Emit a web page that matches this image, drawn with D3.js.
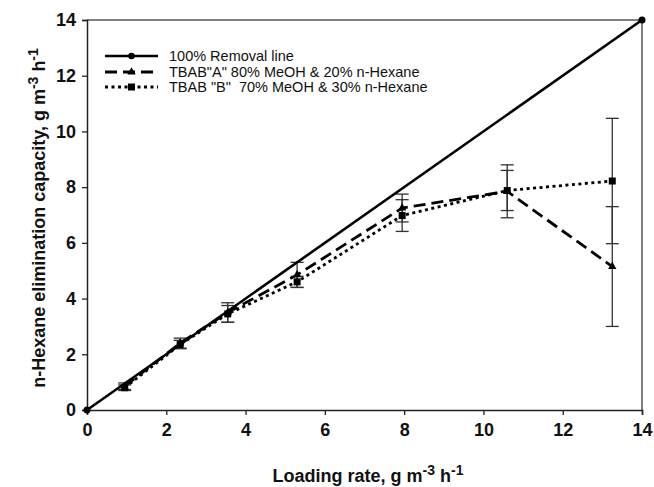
<!DOCTYPE html>
<html><head><meta charset="utf-8">
<script src="https://cdn.jsdelivr.net/npm/d3@7"></script>
<style>body{margin:0;background:#fff}svg{display:block}text{font-family:"Liberation Sans",Arial,sans-serif}</style>
</head><body><svg id="c" width="654" height="487"></svg>
<script>
const loadingRate = [0.95, 2.35, 3.55, 5.3, 7.95, 10.6, 13.25];
const removalX = [0, 14];
const removalY = [0, 14];
const seriesA = [0.85, 2.4, 3.5, 4.85, 7.25, 7.85, 5.15];
const errA = [0.12, 0.18, 0.35, 0.45, 0.5, 0.95, 2.15];
const seriesB = [0.8, 2.35, 3.45, 4.6, 6.98, 7.88, 8.22];
const errB = [0.1, 0.15, 0.3, 0.2, 0.57, 0.72, 2.25];
const xTicks = [0, 2, 4, 6, 8, 10, 12, 14];
const yTicks = [0, 2, 4, 6, 8, 10, 12, 14];
const legendLabels = ["100% Removal line", "TBAB\"A\" 80% MeOH & 20% n-Hexane", "TBAB \"B\"  70% MeOH & 30% n-Hexane"];

const svg = d3.select("#c");
const L = 87, R = 642, T = 20, B = 410;
const x = d3.scaleLinear().domain([0, 14]).range([L, R]);
const y = d3.scaleLinear().domain([0, 14]).range([B, T]);

// frame
svg.append("line").attr("x1", L).attr("x2", R).attr("y1", T).attr("y2", T).attr("stroke", "#555").attr("stroke-width", 1.5);
svg.append("line").attr("x1", R).attr("x2", R).attr("y1", T).attr("y2", B).attr("stroke", "#555").attr("stroke-width", 1.5);

const xAxis = svg.append("g").attr("transform", `translate(0,${B})`)
  .call(d3.axisBottom(x).tickValues(xTicks).tickSize(5).tickPadding(6).tickFormat(d3.format("d")));
const yAxis = svg.append("g").attr("transform", `translate(${L},0)`)
  .call(d3.axisLeft(y).tickValues(yTicks).tickSize(5).tickPadding(6).tickFormat(d3.format("d")));
[xAxis, yAxis].forEach(g => {
  g.select(".domain").attr("stroke", "#222").attr("stroke-width", 1.5);
  g.selectAll(".tick line").attr("stroke", "#222").attr("stroke-width", 1.3);
  g.selectAll("text").attr("font-size", 18).attr("font-weight", "bold").attr("fill", "#111")
    .attr("font-family", "'Liberation Sans',Arial,sans-serif");
});
xAxis.selectAll("text").attr("dy", "0.85em");

// error bars
function errBars(vals, errs) {
  const g = svg.append("g").attr("stroke", "#333").attr("stroke-width", 1.3);
  loadingRate.forEach((lr, i) => {
    const cx = x(lr), y1 = y(vals[i] - errs[i]), y2 = y(vals[i] + errs[i]);
    g.append("line").attr("x1", cx).attr("x2", cx).attr("y1", y1).attr("y2", y2);
    g.append("line").attr("x1", cx - 6.5).attr("x2", cx + 6.5).attr("y1", y1).attr("y2", y1);
    g.append("line").attr("x1", cx - 6.5).attr("x2", cx + 6.5).attr("y1", y2).attr("y2", y2);
  });
}
errBars(seriesA, errA);
errBars(seriesB, errB);

const line = d3.line().x(d => x(d[0])).y(d => y(d[1]));
// removal line
const rem = removalX.map((v, i) => [v, removalY[i]]);
svg.append("path").attr("d", line(rem)).attr("fill", "none").attr("stroke", "#000").attr("stroke-width", 2.6);
svg.selectAll(".rm").data(rem).enter().append("circle").attr("cx", d => x(d[0])).attr("cy", d => y(d[1])).attr("r", 3.5).attr("fill", "#000");

// series A
const aPts = loadingRate.map((v, i) => [v, seriesA[i]]);
svg.append("path").attr("d", line(aPts)).attr("fill", "none").attr("stroke", "#000").attr("stroke-width", 2.8).attr("stroke-dasharray", "12,6");
const tri = d3.symbol().type(d3.symbolTriangle).size(30);
svg.selectAll(".ta").data(aPts).enter().append("path").attr("d", tri).attr("transform", d => `translate(${x(d[0])},${y(d[1])})`).attr("fill", "#000");

// series B
const bPts = loadingRate.map((v, i) => [v, seriesB[i]]);
svg.append("path").attr("d", line(bPts)).attr("fill", "none").attr("stroke", "#000").attr("stroke-width", 2.8).attr("stroke-dasharray", "3,3.5");
svg.selectAll(".sb").data(bPts).enter().append("rect").attr("x", d => x(d[0]) - 3.5).attr("y", d => y(d[1]) - 3.5).attr("width", 7).attr("height", 7).attr("fill", "#000");

// legend
const lg = svg.append("g");
const rows = [56, 72, 87];
const lx1 = 105, lx2 = 158, lm = 131.5;
lg.append("line").attr("x1", lx1).attr("x2", lx2).attr("y1", rows[0]).attr("y2", rows[0]).attr("stroke", "#000").attr("stroke-width", 2.6);
lg.append("circle").attr("cx", lm).attr("cy", rows[0]).attr("r", 3.3).attr("fill", "#000");
lg.append("line").attr("x1", lx1).attr("x2", lx2).attr("y1", rows[1]).attr("y2", rows[1]).attr("stroke", "#000").attr("stroke-width", 2.8).attr("stroke-dasharray", "12,6");
lg.append("path").attr("d", tri).attr("transform", `translate(${lm},${rows[1]})`).attr("fill", "#000");
lg.append("line").attr("x1", lx1).attr("x2", lx2).attr("y1", rows[2]).attr("y2", rows[2]).attr("stroke", "#000").attr("stroke-width", 2.8).attr("stroke-dasharray", "3,3.5");
lg.append("rect").attr("x", lm - 3.5).attr("y", rows[2] - 3.5).attr("width", 7).attr("height", 7).attr("fill", "#000");
legendLabels.forEach((t, i) => {
  lg.append("text").attr("x", 169).attr("y", rows[i]).attr("dy", "0.35em").attr("font-size", 14.5).attr("fill", "#111").attr("xml:space", "preserve").text(t);
});

// axis titles
const xt = svg.append("text").attr("x", 368).attr("y", 482).attr("text-anchor", "middle").attr("font-size", 18).attr("font-weight", "bold").attr("fill", "#111");
xt.append("tspan").text("Loading rate, g m");
xt.append("tspan").attr("dy", -7).attr("font-size", 14).text("-3");
xt.append("tspan").attr("dy", 7).text(" h");
xt.append("tspan").attr("dy", -7).attr("font-size", 14).text("-1");

const yt = svg.append("text").attr("transform", "translate(45,218) rotate(-90)").attr("text-anchor", "middle").attr("font-size", 18).attr("font-weight", "bold").attr("fill", "#111");
yt.append("tspan").text("n-Hexane elimination capacity, g m");
yt.append("tspan").attr("dy", -7).attr("font-size", 14).text("-3");
yt.append("tspan").attr("dy", 7).text(" h");
yt.append("tspan").attr("dy", -7).attr("font-size", 14).text("-1");
</script></body></html>
